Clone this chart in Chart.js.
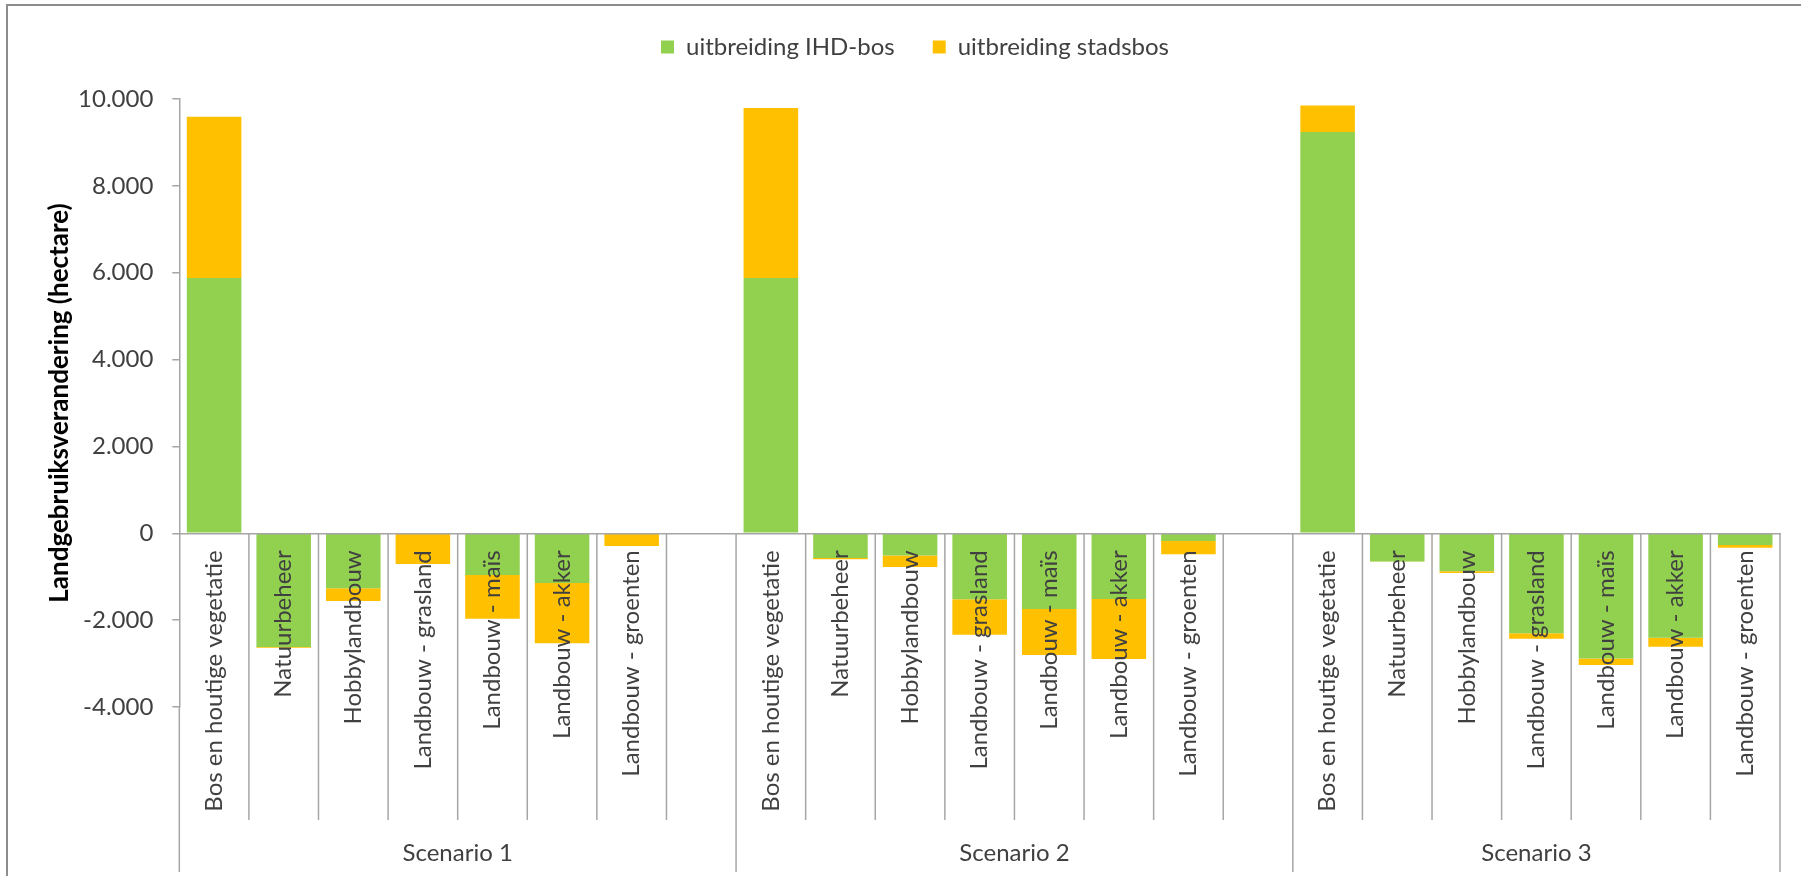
<!DOCTYPE html>
<html lang="nl">
<head>
<meta charset="utf-8">
<title>Landgebruiksverandering per scenario</title>
<script src="https://cdn.jsdelivr.net/npm/chart.js@4.4.1/dist/chart.umd.min.js"></script>
<style>
  html, body { margin: 0; padding: 0; background: #fff; }
  #wrap { width: 1801px; height: 876px; position: relative; }
</style>
</head>
<body>
<div id="wrap"><canvas id="chart"></canvas></div>
<script>
// land use classes, same order in every scenario
const landUse = [
  'Bos en houtige vegetatie',
  'Natuurbeheer',
  'Hobbylandbouw',
  'Landbouw - grasland',
  'Landbouw - maïs',
  'Landbouw - akker',
  'Landbouw - groenten'
];
const scenarios = ['Scenario 1', 'Scenario 2', 'Scenario 3'];

// change in hectare
const ihdS1 = [5880, -2620, -1265, 0, -960, -1145, 0];
const stadS1 = [3710, -15, -295, -710, -1010, -1385, -295];
const ihdS2 = [5880, -570, -510, -1520, -1745, -1515, -175];
const stadS2 = [3910, -30, -265, -815, -1060, -1380, -305];
const ihdS3 = [9240, -650, -875, -2300, -2885, -2405, -270];
const stadS3 = [610, -5, -40, -130, -150, -210, -65];

const yTicks = [-4000, -2000, 0, 2000, 4000, 6000, 8000, 10000];

const FONT = 'Lato, "Open Sans", sans-serif';
const TEXT = '#404040';
const AXIS = '#a6a6a6';

// flatten: one empty slot after scenario 1 and 2 (like the excel sheet)
const perScenario = [[ihdS1, stadS1], [ihdS2, stadS2], [ihdS3, stadS3]];
const labels = [];
const ihd = [];
const stad = [];
const spans = [];
scenarios.forEach((s, i) => {
  const start = labels.length;
  labels.push(...landUse);
  ihd.push(...perScenario[i][0]);
  stad.push(...perScenario[i][1]);
  if (i < scenarios.length - 1) {
    labels.push('');
    ihd.push(null);
    stad.push(null);
  }
  spans.push([start, labels.length - 1]);
});

function fmt(v) {
  const s = String(Math.abs(v)).replace(/\B(?=(\d{3})+(?!\d))/g, '.');
  return v < 0 ? '-' + s : s;
}

// draws the multi-level category axis lines, scenario names and the outer frame
const categoryAxis = {
  id: 'categoryAxis',
  beforeInit(chart) {
    const fit = chart.legend.fit;
    chart.legend.fit = function () {
      fit.call(this);
      this.height = 102;
    };
  },
  afterDraw(chart) {
    const { ctx, chartArea, scales: { x, y } } = chart;
    const zero = y.getPixelForValue(0);
    const half = (x.getPixelForValue(1) - x.getPixelForValue(0)) / 2;
    const groupStarts = spans.map(s => s[0]);

    ctx.save();
    ctx.strokeStyle = AXIS;
    ctx.lineWidth = 1.5;
    const vline = (px, y0, y1) => {
      ctx.beginPath();
      ctx.moveTo(px, y0);
      ctx.lineTo(px, y1);
      ctx.stroke();
    };
    vline(chartArea.left, chartArea.bottom, 872);
    vline(chartArea.right, zero, 872);
    for (let i = 1; i < labels.length; i++) {
      const px = x.getPixelForValue(i) - half;
      vline(px, zero, groupStarts.includes(i) ? 872 : 820);
    }

    ctx.fillStyle = TEXT;
    ctx.font = '24px ' + FONT;
    ctx.textAlign = 'center';
    ctx.textBaseline = 'middle';
    spans.forEach(([a, b], i) => {
      const cx = (x.getPixelForValue(a) + x.getPixelForValue(b)) / 2;
      ctx.fillText(scenarios[i], cx, 853);
    });

    ctx.strokeStyle = '#8c8c8c';
    ctx.lineWidth = 2;
    ctx.beginPath();
    ctx.moveTo(7, 876);
    ctx.lineTo(7, 5);
    ctx.lineTo(1801, 5);
    ctx.stroke();
    ctx.restore();
  }
};

new Chart(document.getElementById('chart'), {
  type: 'bar',
  data: {
    labels: labels,
    datasets: [
      { label: 'uitbreiding IHD-bos', data: ihd, backgroundColor: '#92d050', borderWidth: 0 },
      { label: 'uitbreiding stadsbos', data: stad, backgroundColor: '#ffc000', borderWidth: 0 }
    ]
  },
  options: {
    responsive: true,
    maintainAspectRatio: false,
    animation: false,
    datasets: { bar: { categoryPercentage: 1, barPercentage: 0.784 } },
    layout: { padding: { top: -3, left: 50, right: 21, bottom: 169 } },
    plugins: {
      legend: {
        position: 'top',
        labels: {
          boxWidth: 13,
          boxHeight: 13,
          padding: 38,
          color: TEXT,
          font: { family: FONT, size: 24 }
        }
      },
      tooltip: { enabled: false }
    },
    scales: {
      x: {
        stacked: true,
        position: { y: 0 },
        grid: { display: false, drawTicks: false },
        // labels and zero line go on top of the bars, like in excel
        border: { display: true, color: AXIS, width: 1.5, z: 1 },
        ticks: {
          z: 1,
          autoSkip: false,
          minRotation: 90,
          maxRotation: 90,
          padding: 17,
          color: TEXT,
          font: { family: FONT, size: 24 }
        }
      },
      y: {
        stacked: true,
        min: -4000,
        max: 10000,
        afterBuildTicks(axis) {
          axis.ticks = yTicks.map(v => ({ value: v }));
        },
        afterFit(axis) {
          axis.width = 129.3;
        },
        grid: { drawOnChartArea: false, drawTicks: true, tickLength: 7, color: AXIS, lineWidth: 1.5 },
        border: { display: true, color: AXIS, width: 1.5 },
        ticks: {
          padding: 19,
          color: TEXT,
          font: { family: FONT, size: 24 },
          callback: v => fmt(v)
        },
        title: {
          display: true,
          text: 'Landgebruiksverandering (hectare)',
          color: '#000',
          padding: { top: -6, bottom: 0 },
          font: { family: FONT, size: 26, weight: 'bold' }
        }
      }
    }
  },
  plugins: [categoryAxis]
});
</script>
</body>
</html>
